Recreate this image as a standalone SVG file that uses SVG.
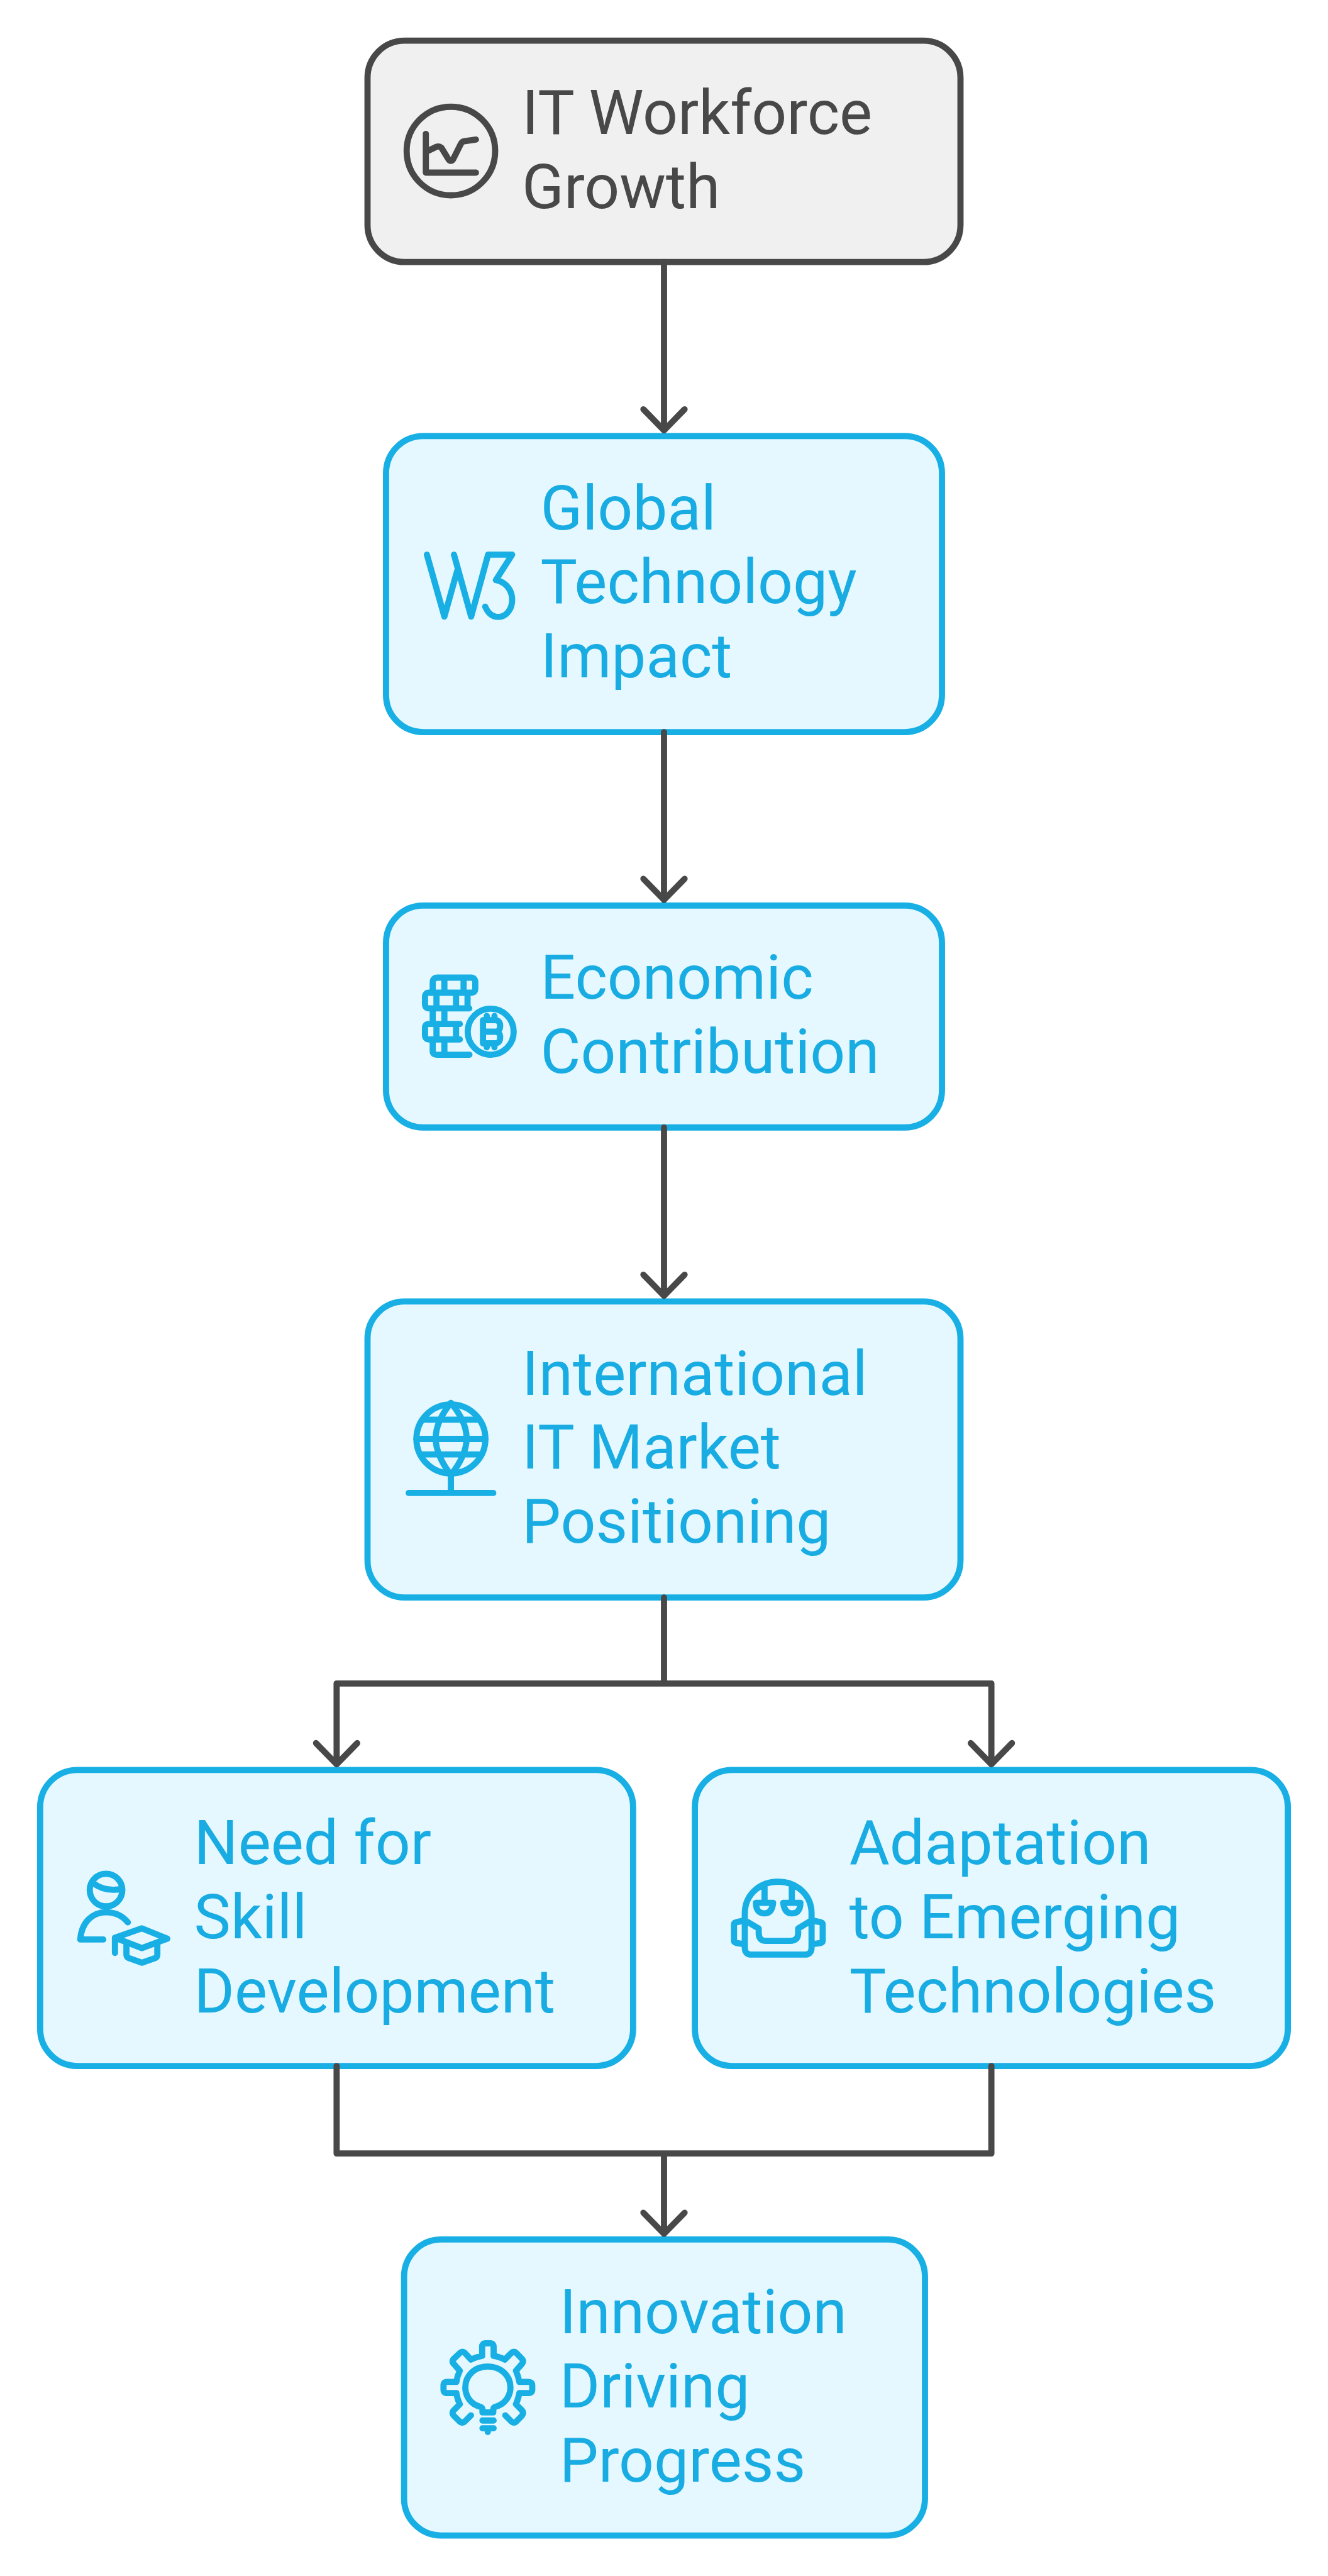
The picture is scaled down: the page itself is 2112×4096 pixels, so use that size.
<svg xmlns="http://www.w3.org/2000/svg" width="2112" height="4096" viewBox="0 0 2112 4096">
<style>
.n{fill:#e5f8ff;stroke:#18afe5;stroke-width:12}
.g{fill:#f0f0f0;stroke:#484848;stroke-width:12}
text{font-family:Roboto,"Liberation Sans",sans-serif;font-size:120px;fill:#18ace3}
.d{fill:#484848}
.i{fill:none;stroke:#18afe5;stroke-width:36;stroke-linecap:round;stroke-linejoin:round}
.j{stroke:#484848}
.c{fill:none;stroke:#484848;stroke-width:12;stroke-linecap:round;stroke-linejoin:round}
</style>
<rect width="2112" height="4096" fill="#fff"/>
<g transform="scale(0.81860)">
<g id="n1"><rect class="g" x="714" y="79" width="1152" height="430" rx="72"/>
<g transform="translate(770,190) scale(.33333)" class="i j"><circle cx="318" cy="310" r="258"/><path d="M172,210V436H464M172,315L235,285Q250,280 262,290L305,360Q318,375 330,360L375,270Q382,255 395,253L464,243"/></g>
<text class="d" x="1014" y="260">IT Workforce</text><text class="d" x="1014" y="404">Growth</text></g>
<g id="n2"><rect class="n" x="750" y="847" width="1080" height="575" rx="72"/>
<g transform="translate(780,1020) scale(.33333)" class="i"><path d="M148,172L250,533L325,265M306,172L406,533L505,172H645L550,320C620,335 645,390 645,435C645,490 610,535 565,535C530,535 505,515 488,475"/></g>
<text x="1050" y="1028">Global</text><text x="1050" y="1172">Technology</text><text x="1050" y="1316">Impact</text></g>
<g id="n3"><rect class="n" x="750" y="1759" width="1080" height="431" rx="72"/>
<g transform="translate(780,1850) scale(.33333)" class="i"><path d="M182,235V175Q182,147 210,147H405Q430,147 430,175V210Q430,235 405,235H160Q137,235 137,260V300Q137,326 160,326H395M250,147V235M362,147V235M204,235V326M318,235V326M385,235V326M182,326V417M250,326V417M340,417H160Q137,417 137,440V480Q137,507 160,507H340M204,417V507M318,417V507M182,507V575Q182,596 205,596H396M250,507V596"/><circle cx="520" cy="462" r="134"/><path d="M475,395H545Q575,395 575,428Q575,462 545,462H475M545,462Q575,462 575,495Q575,530 545,530H475V395M497,370V395M542,370V395M497,530V553M542,530V553"/></g>
<text x="1050" y="1940">Economic</text><text x="1050" y="2084">Contribution</text></g>
<g id="n4"><rect class="n" x="714" y="2528" width="1152" height="575" rx="72"/>
<g transform="translate(780,2650) scale(.33333)" class="i"><circle cx="288" cy="435" r="201"/><path d="M87,435H489M125,323H450M125,525H450M288,225C170,370 170,490 288,645C410,490 410,370 288,225M288,636V750M42,750H535"/></g>
<text x="1014" y="2709">International</text><text x="1014" y="2853">IT Market</text><text x="1014" y="2997">Positioning</text></g>
<g id="n5"><rect class="n" x="78" y="3438" width="1152" height="575" rx="72"/>
<g transform="translate(130,3600) scale(.33333)" class="i"><circle cx="228" cy="214" r="95"/><path d="M155,175Q220,225 320,208M212,502H78C85,400 150,343 228,343C280,343 325,365 355,402M280,580V492L437,437L585,497L437,552L280,492M347,530V590Q347,605 360,610L437,637L515,610Q527,605 527,590V530"/></g>
<text x="377" y="3621">Need for</text><text x="377" y="3765">Skill</text><text x="377" y="3909">Development</text></g>
<g id="n6"><rect class="n" x="1350" y="3438" width="1152" height="575" rx="72"/>
<g transform="translate(1400,3620) scale(.33333)" class="i"><path d="M141,330V290C141,180 230,105 335,105C440,105 530,180 530,290V490Q530,530 490,530H180Q141,530 141,490V330L222,378V405Q222,450 265,450H405Q452,450 452,405V378L530,330M141,330L90,342Q78,345 78,355V450Q78,458 90,462L141,470M530,330L585,342Q595,345 595,355V450Q595,458 585,462L530,470M256,120V228M415,120V228M206,228H306Q300,290 256,290Q206,290 206,228ZM365,228H465Q465,290 415,290Q372,290 365,228Z"/></g>
<text x="1650" y="3621">Adaptation</text><text x="1650" y="3765">to Emerging</text><text x="1650" y="3909">Technologies</text></g>
<g id="n7"><rect class="n" x="785" y="4350" width="1012" height="575" rx="72"/>
<g transform="translate(830,4520) scale(.33333)" class="i"><path d="M322,498V480Q322,470 310,465C250,450 222,400 222,352C222,280 280,230 353,230C426,230 485,280 485,352C485,400 456,450 396,465Q385,470 385,480V498ZM322,545H387M322,590H387M353,590V612M255,515L220,550Q204,565 188,550L155,517Q140,500 155,485L190,450Q175,420 170,385H115Q95,385 95,365V340Q95,320 115,320H170Q175,285 190,255L155,215Q140,200 155,185L190,152Q204,138 220,152L255,190Q285,175 320,168V115Q320,95 340,95H367Q387,95 387,115V168Q425,175 452,190L490,152Q505,138 520,152L552,185Q565,200 552,215L517,255Q530,285 537,320H590Q612,320 612,340V365Q612,385 590,385H537Q530,420 517,450L552,485Q565,500 552,517L520,550Q505,565 490,550L455,515"/></g>
<text x="1087" y="4532">Innovation</text><text x="1087" y="4676">Driving</text><text x="1087" y="4820">Progress</text></g>
<g id="connectors" class="c">
<path d="M1290,509V836M1250,795L1290,836L1330,795"/>
<path d="M1290,1422V1748M1250,1707L1290,1748L1330,1707"/>
<path d="M1290,2190V2517M1250,2476L1290,2517L1330,2476"/>
<path d="M1290,3103V3270M654,3427V3270H1926V3427M614,3386L654,3427L694,3386M1886,3386L1926,3427L1966,3386"/>
<path d="M654,4013V4183H1926V4013M1290,4183V4339M1250,4298L1290,4339L1330,4298"/>
</g>
</g>
</svg>
